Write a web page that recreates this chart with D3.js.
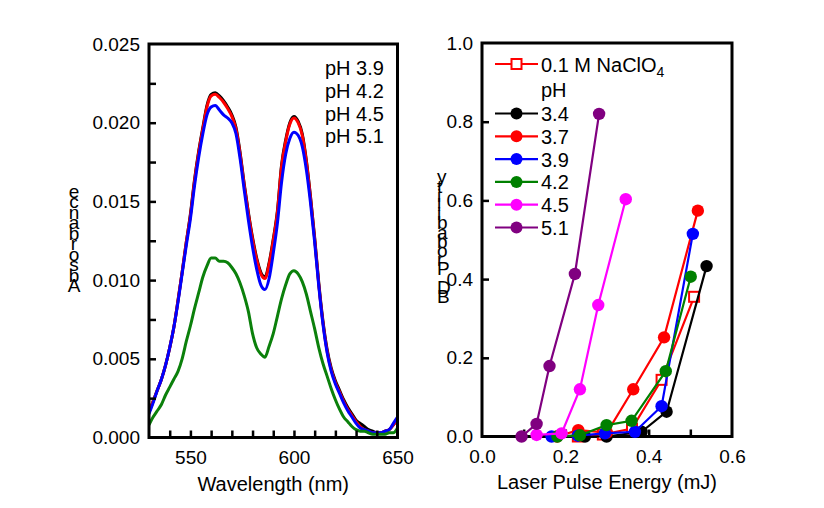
<!DOCTYPE html>
<html><head><meta charset="utf-8">
<script src="https://cdn.jsdelivr.net/npm/d3@7"></script>
<style>
html,body{margin:0;padding:0;background:#fff;}
text{font-family:Arial,"Liberation Sans",sans-serif;fill:#000;}
</style></head>
<body><svg id="c" width="824" height="508"></svg>
<script>
// ---------- Left panel data (absorbance spectra) ----------
const wavelengths = [530,532,534,536,538,540,542,544,546,548,550,552,554,556,558,560,562,564,566,568,570,572,574,576,578,580,582,584,586,588,590,592,594,596,598,600,602,604,606,608,610,612,614,616,618,620,622,624,626,628,630,632,634,636,638,640,642,644,646,648,650];
const absBlack = [0.0016,0.0023,0.0030,0.0037,0.0046,0.0057,0.0070,0.0087,0.0105,0.0124,0.0142,0.0164,0.0182,0.0197,0.0211,0.0218,0.0219,0.0217,0.0214,0.0210,0.0205,0.0197,0.0181,0.0161,0.0143,0.0127,0.0114,0.0105,0.0102,0.0111,0.0126,0.0144,0.0173,0.0189,0.0200,0.0204,0.0201,0.0193,0.0176,0.0153,0.0127,0.0098,0.0074,0.0056,0.0044,0.0036,0.0030,0.0024,0.0019,0.0015,0.0011,0.0009,0.0007,0.0005,0.0004,0.0003,0.0003,0.0004,0.0005,0.0008,0.0012];
const absRed   = [0.0016,0.0023,0.0030,0.0037,0.0046,0.0057,0.0070,0.0087,0.0105,0.0124,0.0141,0.0163,0.0181,0.0196,0.0210,0.0217,0.0218,0.0216,0.0213,0.0209,0.0204,0.0196,0.0180,0.0160,0.0142,0.0126,0.0113,0.0104,0.0101,0.0110,0.0125,0.0143,0.0172,0.0188,0.0199,0.0203,0.0200,0.0192,0.0175,0.0152,0.0126,0.0097,0.0073,0.0055,0.0043,0.0035,0.0029,0.0023,0.0018,0.0014,0.0010,0.0007,0.0005,0.0004,0.0003,0.0003,0.0003,0.0004,0.0005,0.0008,0.0012];
const absBlue  = [0.0015,0.0022,0.0030,0.0037,0.0046,0.0057,0.0070,0.0086,0.0104,0.0122,0.0139,0.0160,0.0178,0.0193,0.0205,0.0210,0.0211,0.0208,0.0205,0.0203,0.0200,0.0193,0.0177,0.0157,0.0138,0.0121,0.0107,0.0097,0.0094,0.0101,0.0117,0.0136,0.0162,0.0180,0.0190,0.0194,0.0192,0.0185,0.0170,0.0149,0.0124,0.0096,0.0072,0.0054,0.0042,0.0034,0.0028,0.0022,0.0017,0.0013,0.0009,0.0006,0.0005,0.0004,0.0003,0.0003,0.0003,0.0004,0.0005,0.0009,0.0013];
const absGreen = [0.0008,0.0013,0.0017,0.0021,0.0027,0.0032,0.0037,0.0042,0.0050,0.0061,0.0071,0.0082,0.0092,0.0102,0.0109,0.0114,0.0114,0.0112,0.0112,0.0111,0.0108,0.0104,0.0098,0.0090,0.0080,0.0066,0.0057,0.0053,0.0051,0.0058,0.0066,0.0077,0.0088,0.0097,0.0104,0.0106,0.0104,0.0099,0.0091,0.0080,0.0069,0.0057,0.0047,0.0039,0.0031,0.0024,0.0018,0.0013,0.0010,0.0007,0.0005,0.0004,0.0004,0.0003,0.0002,0.0002,0.0002,0.0002,0.0003,0.0003,0.0006];
const spectraLegend = ["pH 3.9","pH 4.2","pH 4.5","pH 5.1"];
const leftXTicks = [550,600,650];
const leftXMinor = [540,550,560,570,580,590,600,610,620,630,640];
const leftYTicks = [0,0.005,0.010,0.015,0.020,0.025];
const leftYMinor = [0.0025,0.005,0.0075,0.010,0.0125,0.015,0.0175,0.020,0.0225];
const leftYTitle = "Absorbance";
const leftXTitle = "Wavelength (nm)";

// ---------- Right panel data (BD probability vs energy) ----------
const naclo4E = [0.23,0.29,0.36,0.431,0.509];
const naclo4P = [0.0,0.005,0.02,0.144,0.355];
const ph34E = [0.247,0.299,0.383,0.443,0.539];
const ph34P = [0.0,0.0,0.012,0.063,0.433];
const ph37E = [0.18,0.231,0.30,0.363,0.437,0.518];
const ph37P = [0.0,0.016,0.01,0.12,0.252,0.574];
const ph39E = [0.167,0.23,0.295,0.367,0.431,0.506];
const ph39P = [0.0,0.002,0.008,0.012,0.077,0.515];
const ph42E = [0.181,0.235,0.299,0.359,0.441,0.501];
const ph42P = [0.0,0.003,0.029,0.04,0.166,0.406];
const ph45E = [0.131,0.191,0.235,0.279,0.345];
const ph45P = [0.004,0.008,0.12,0.334,0.603];
const ph51E = [0.095,0.131,0.162,0.223,0.281];
const ph51P = [0.0,0.032,0.179,0.413,0.82];
const phLabels = ["3.4","3.7","3.9","4.2","4.5","5.1"];
const rightXTicks = [0,0.2,0.4,0.6];
const rightXMinor = [0.1,0.2,0.3,0.4,0.5];
const rightYTicks = [0,0.2,0.4,0.6,0.8,1.0];
const rightYMinor = [0.2,0.4,0.6,0.8];
const rightYTitle = "BD Probability";
const rightXTitle = "Laser Pulse Energy (mJ)";

// ---------- Drawing ----------
const svg = d3.select("#c");
svg.append("rect").attr("width",824).attr("height",508).attr("fill","#fff");
const TICK_FONT = "19px", TITLE_FONT = "20px";

function frameAndAxes(g, x, y, opt){
  const [x0,x1] = x.range(), [y0,y1] = y.range();
  // minor/inward ticks
  g.append("g").attr("transform",`translate(0,${y0})`)
    .call(d3.axisBottom(x).tickValues(opt.xMinor).tickSize(-7).tickFormat(""))
    .call(s=>{s.select(".domain").remove(); s.selectAll("line").attr("stroke","#000").attr("stroke-width",2.5);});
  g.append("g").attr("transform",`translate(${x0},0)`)
    .call(d3.axisLeft(y).tickValues(opt.yMinor).tickSize(-7).tickFormat(""))
    .call(s=>{s.select(".domain").remove(); s.selectAll("line").attr("stroke","#000").attr("stroke-width",2.5);});
  // labels
  g.append("g").attr("transform",`translate(0,${y0})`)
    .call(d3.axisBottom(x).tickValues(opt.xTicks).tickSize(0).tickPadding(13).tickFormat(opt.xFmt))
    .call(s=>{s.select(".domain").remove(); s.selectAll("text").attr("font-size",TICK_FONT).attr("font-family","Arial, 'Liberation Sans', sans-serif").attr("fill","#000");});
  g.append("g").attr("transform",`translate(${x0},0)`)
    .call(d3.axisLeft(y).tickValues(opt.yTicks).tickSize(0).tickPadding(opt.yPad).tickFormat(opt.yFmt))
    .call(s=>{s.select(".domain").remove(); s.selectAll("text").attr("font-size",TICK_FONT).attr("font-family","Arial, 'Liberation Sans', sans-serif").attr("fill","#000");});
  // frame
  g.append("rect").attr("x",x0).attr("y",y1).attr("width",x1-x0).attr("height",y0-y1)
    .attr("fill","none").attr("stroke","#000").attr("stroke-width",3);
  // x title
  g.append("text").attr("x",(x0+x1)/2).attr("y",opt.xTitleY).attr("text-anchor","middle")
    .attr("font-size",TITLE_FONT).text(opt.xTitle);
}

function stackedTitle(g, str, x, yBottom, step, anchor){
  const chars = Array.from(str);
  g.selectAll(null).data(chars).join("text")
    .attr("x",x).attr("y",(d,i)=>yBottom - i*step)
    .attr("text-anchor",anchor).attr("font-size","19px").text(d=>d);
}

// ===== Left panel =====
const xL = d3.scaleLinear().domain([530,650]).range([149,397.5]);
const yL = d3.scaleLinear().domain([0,0.025]).range([437.5,44]);
const gL = svg.append("g");
const clipL = svg.append("clipPath").attr("id","clipL");
clipL.append("rect").attr("x",xL(530)).attr("y",yL(0.025)).attr("width",xL(650)-xL(530)).attr("height",yL(0)-yL(0.025));
const lineL = d3.line().x(d=>xL(d[0])).y(d=>yL(d[1])).curve(d3.curveMonotoneX);
const spectra = [[absBlack,"#000000"],[absRed,"#ff0000"],[absBlue,"#0000ff"],[absGreen,"#0b800b"]];
const gLines = gL.append("g").attr("clip-path","url(#clipL)");
spectra.forEach(([vals,col])=>{
  gLines.append("path").datum(wavelengths.map((w,i)=>[w,vals[i]]))
    .attr("d",lineL).attr("fill","none").attr("stroke",col).attr("stroke-width",3).attr("stroke-linejoin","round");
});
frameAndAxes(gL, xL, yL, {xTicks:leftXTicks, xMinor:leftXMinor, yTicks:leftYTicks, yMinor:leftYMinor,
  xFmt:d3.format("d"), yFmt:d3.format(".3f"), yPad:9, xTitle:leftXTitle, xTitleY:491});
gL.selectAll(null).data(spectraLegend).join("text")
  .attr("x",325).attr("y",(d,i)=>75+i*22.8).attr("font-size","20px").text(d=>d);
stackedTitle(gL, leftYTitle, 74, 292, 10.5, "middle");

// ===== Right panel =====
const xR = d3.scaleLinear().domain([0,0.6]).range([482,732]);
const yR = d3.scaleLinear().domain([0,1]).range([436.5,43]);
const gR = svg.append("g");
frameAndAxes(gR, xR, yR, {xTicks:rightXTicks, xMinor:rightXMinor, yTicks:rightYTicks, yMinor:rightYMinor,
  xFmt:d3.format(".1f"), yFmt:d3.format(".1f"), yPad:9, xTitle:rightXTitle, xTitleY:489});
const lineR = d3.line().x(d=>xR(d[0])).y(d=>yR(d[1]));
const series = [
  {E:naclo4E,P:naclo4P,c:"#ff0000",sq:true},
  {E:ph34E,P:ph34P,c:"#000000"},
  {E:ph37E,P:ph37P,c:"#ff0000"},
  {E:ph39E,P:ph39P,c:"#0000ff"},
  {E:ph42E,P:ph42P,c:"#008000"},
  {E:ph45E,P:ph45P,c:"#ff00ff"},
  {E:ph51E,P:ph51P,c:"#800080"}
];
series.forEach(s=>{
  const pts = s.E.map((e,i)=>[e,s.P[i]]);
  const g = gR.append("g");
  g.append("path").datum(pts).attr("d",lineR).attr("fill","none").attr("stroke",s.c).attr("stroke-width",2.2);
  if(s.sq){
    g.selectAll("rect").data(pts).join("rect")
      .attr("x",d=>xR(d[0])-5).attr("y",d=>yR(d[1])-5).attr("width",10).attr("height",10)
      .attr("fill","#fff").attr("stroke",s.c).attr("stroke-width",2);
  } else {
    g.selectAll("circle").data(pts).join("circle")
      .attr("cx",d=>xR(d[0])).attr("cy",d=>yR(d[1])).attr("r",6.2).attr("fill",s.c);
  }
});
// legend
const lg = gR.append("g");
const lx0 = 495, lx1 = 538, lxm = 516.5, ltx = 541;
// NaClO4 row
lg.append("line").attr("x1",lx0).attr("x2",lx1).attr("y1",64).attr("y2",64).attr("stroke","#ff0000").attr("stroke-width",2.2);
lg.append("rect").attr("x",lxm-5).attr("y",59).attr("width",10).attr("height",10).attr("fill","#fff").attr("stroke","#ff0000").attr("stroke-width",2);
const t0 = lg.append("text").attr("x",ltx).attr("y",71.5).attr("font-size","20px");
t0.append("tspan").text("0.1 M NaClO");
t0.append("tspan").attr("font-size","14px").attr("dy",5).text("4");
lg.append("text").attr("x",ltx).attr("y",97).attr("font-size","20px").text("pH");
const phCols = ["#000000","#ff0000","#0000ff","#008000","#ff00ff","#800080"];
phLabels.forEach((lab,i)=>{
  const by = 121 + i*22.8, cy = by - 7.5;
  lg.append("line").attr("x1",lx0).attr("x2",lx1).attr("y1",cy).attr("y2",cy).attr("stroke",phCols[i]).attr("stroke-width",2.2);
  lg.append("circle").attr("cx",lxm).attr("cy",cy).attr("r",6).attr("fill",phCols[i]);
  lg.append("text").attr("x",ltx).attr("y",by).attr("font-size","20px").text(lab);
});
stackedTitle(gR, rightYTitle, 437, 303, 9.2, "start");
</script></body></html>
